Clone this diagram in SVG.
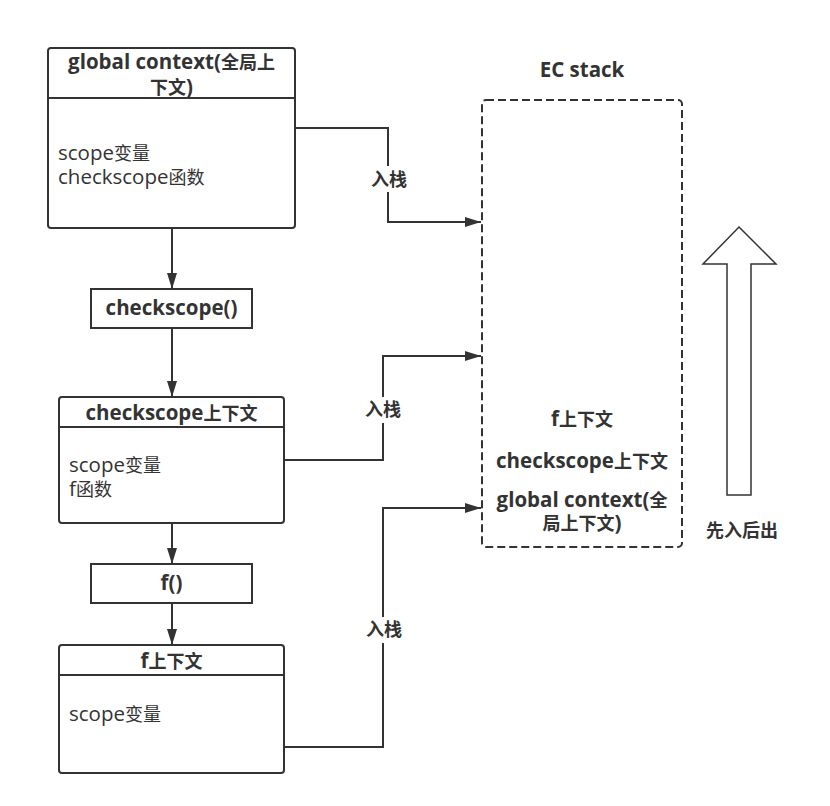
<svg xmlns="http://www.w3.org/2000/svg" width="830" height="806" viewBox="0 0 830 806">
<defs>
<style>
.box{fill:#fff;stroke:#333;stroke-width:2}
.ln{fill:none;stroke:#333;stroke-width:2}
.t{font-family:"Open Sans","Noto Sans CJK SC",sans-serif;font-size:20.5px;fill:#333}
.b{font-weight:bold}
.c{text-anchor:middle}
.cj{font-size:18px}
.lbl{font-family:"Open Sans","Noto Sans CJK SC",sans-serif;font-size:18px;font-weight:bold;fill:#333;text-anchor:middle}
</style>
<marker id="ah" viewBox="0 0 16 10" refX="16" refY="5" markerWidth="16" markerHeight="10" markerUnits="userSpaceOnUse" orient="auto">
<path d="M0,0 L16,5 L0,10 Z" fill="#333"/>
</marker>
</defs>
<rect width="830" height="806" fill="#fff"/>

<g id="global-context">
<rect class="box" x="48" y="48" width="247" height="180" rx="3"/>
<line class="ln" x1="48" y1="98" x2="295" y2="98"/>
<text class="t b c" x="171.5" y="69">global context(<tspan class="cj">全局上</tspan></text>
<text class="t b c" x="171.5" y="94"><tspan class="cj">下文</tspan>)</text>
<text class="t" x="58" y="160">scope<tspan class="cj">变量</tspan></text>
<text class="t" x="58" y="184">checkscope<tspan class="cj">函数</tspan></text>
</g>

<g id="checkscope-call">
<rect class="box" x="91" y="289" width="161" height="39"/>
<text class="t b c" x="171.5" y="315">checkscope()</text>
</g>

<g id="checkscope-context">
<rect class="box" x="59" y="397" width="225" height="126" rx="3"/>
<line class="ln" x1="59" y1="427" x2="284" y2="427"/>
<text class="t b c" x="171.5" y="420">checkscope<tspan class="cj">上下文</tspan></text>
<text class="t" x="69" y="472">scope<tspan class="cj">变量</tspan></text>
<text class="t" x="69" y="496">f<tspan class="cj">函数</tspan></text>
</g>

<g id="f-call">
<rect class="box" x="91" y="564" width="161" height="39"/>
<text class="t b c" x="171.5" y="590">f()</text>
</g>

<g id="f-context">
<rect class="box" x="59" y="645" width="225" height="128" rx="3"/>
<line class="ln" x1="59" y1="675" x2="284" y2="675"/>
<text class="t b c" x="171.5" y="668">f<tspan class="cj">上下文</tspan></text>
<text class="t" x="69" y="721">scope<tspan class="cj">变量</tspan></text>
</g>

<g id="ec-stack">
<text class="t b c" x="582" y="77">EC stack</text>
<rect x="482" y="100" width="200" height="447" rx="4" fill="none" stroke="#333" stroke-width="2" stroke-dasharray="8 4"/>
<text class="t b c" x="582" y="426">f<tspan class="cj">上下文</tspan></text>
<text class="t b c" x="582" y="468">checkscope<tspan class="cj">上下文</tspan></text>
<text class="t b c" x="582" y="507">global context(<tspan class="cj">全</tspan></text>
<text class="t b c" x="582" y="530"><tspan class="cj">局上下文</tspan>)</text>
</g>

<g id="lifo-arrow">
<polygon points="739,227 776,264 751,264 751,495 727,495 727,264 703,264" fill="#fff" stroke="#333" stroke-width="1.5"/>
<text class="lbl" x="742" y="537">先入后出</text>
</g>

<g id="connectors">
<line class="ln" x1="172" y1="228" x2="172" y2="289" marker-end="url(#ah)"/>
<line class="ln" x1="172" y1="328" x2="172" y2="397" marker-end="url(#ah)"/>
<line class="ln" x1="172" y1="523" x2="172" y2="564" marker-end="url(#ah)"/>
<line class="ln" x1="172" y1="603" x2="172" y2="645" marker-end="url(#ah)"/>
<polyline class="ln" points="295,128 388,128 388,222 481,222" marker-end="url(#ah)"/>
<polyline class="ln" points="284,460 383,460 383,356 481,356" marker-end="url(#ah)"/>
<polyline class="ln" points="284,747 383,747 383,508 481,508" marker-end="url(#ah)"/>
<rect x="368" y="166" width="42" height="26" fill="#fff"/>
<text class="lbl" x="389" y="186">入栈</text>
<rect x="362" y="397" width="42" height="26" fill="#fff"/>
<text class="lbl" x="383" y="416">入栈</text>
<rect x="362" y="617" width="42" height="26" fill="#fff"/>
<text class="lbl" x="384" y="636">入栈</text>
</g>
</svg>
